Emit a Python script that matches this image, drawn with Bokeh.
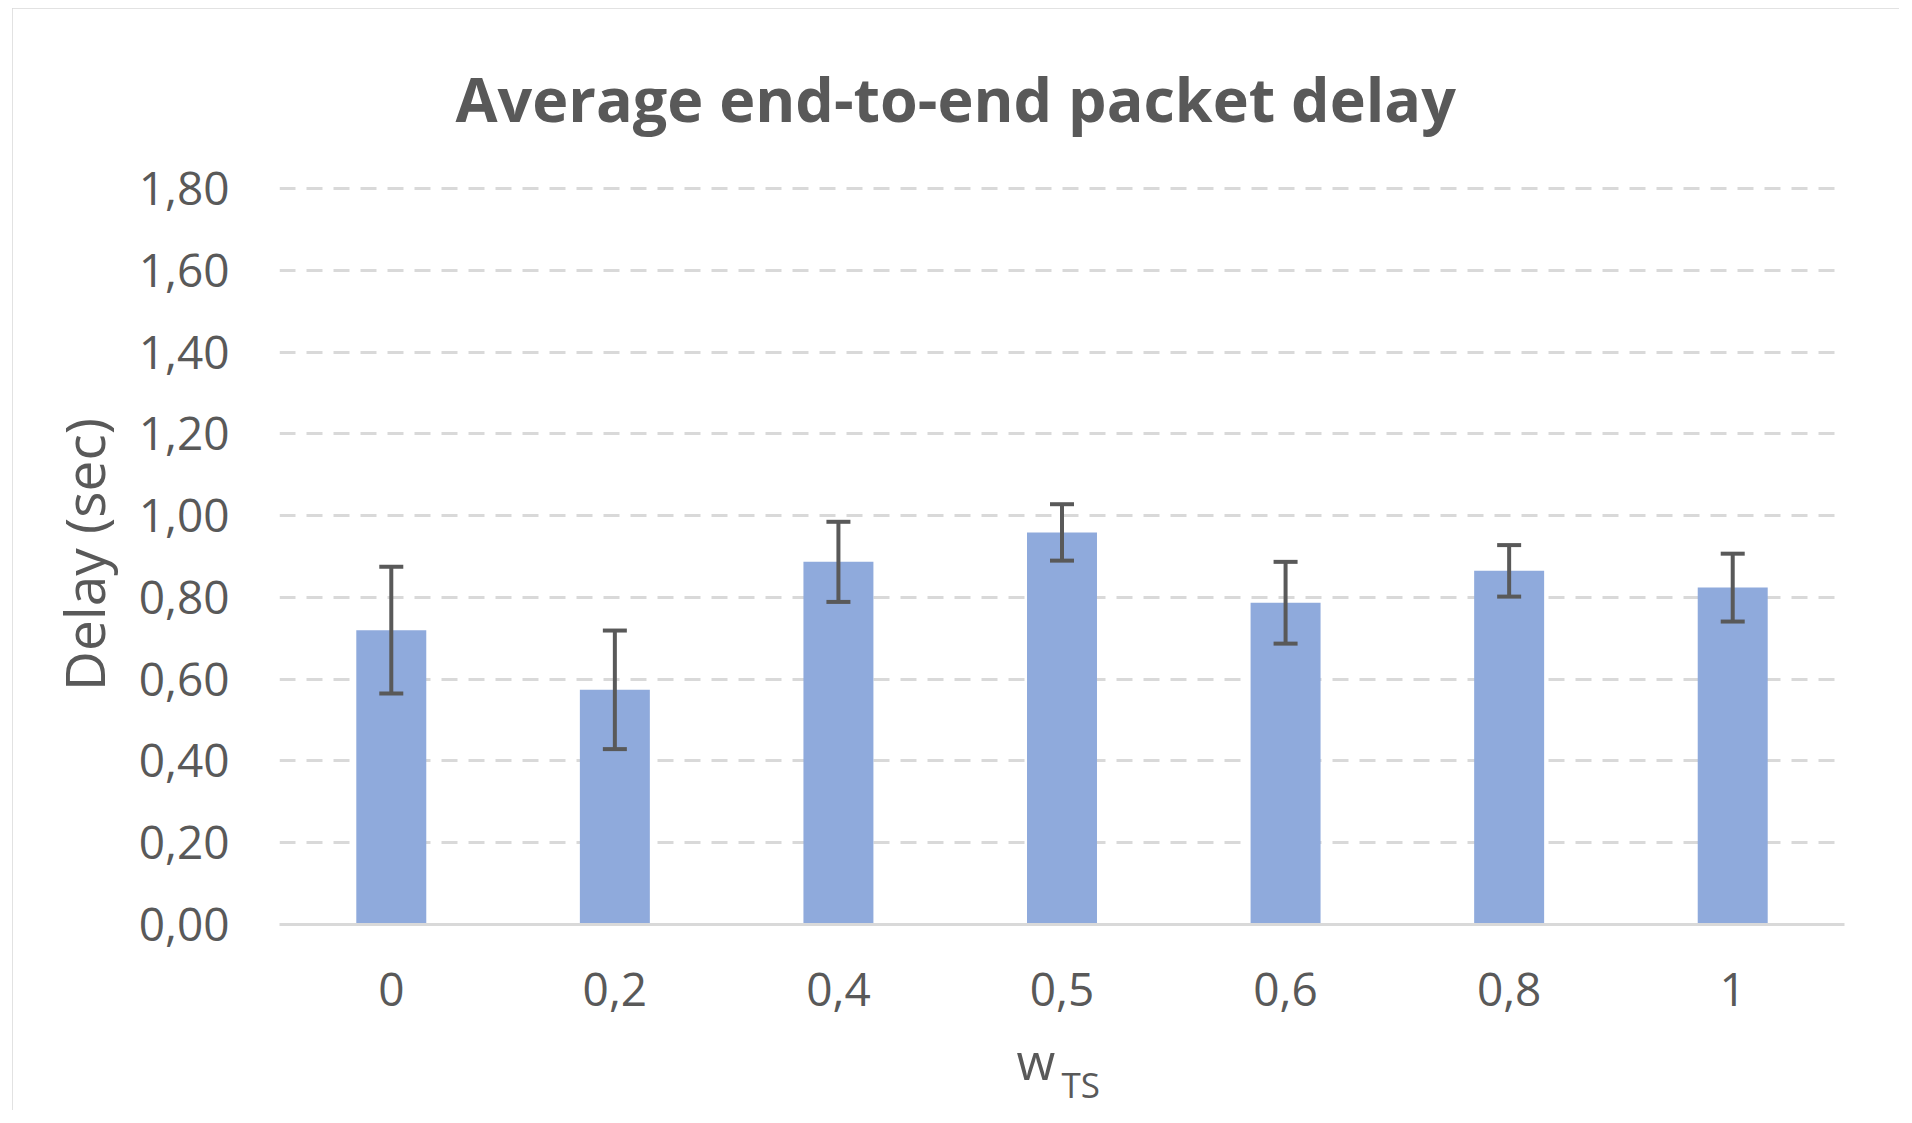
from bokeh.plotting import figure
from bokeh.models import ColumnDataSource, Whisker, TeeHead, Title, FactorRange, Range1d, FixedTicker, CustomJSTickFormatter
from bokeh.embed import file_html
from bokeh.resources import INLINE

# ---- data ----
categories = ["0", "0,2", "0,4", "0,5", "0,6", "0,8", "1"]
delay = [0.72, 0.574, 0.887, 0.959, 0.787, 0.865, 0.824]
delay_err = [0.155, 0.145, 0.098, 0.069, 0.100, 0.063, 0.083]
y_ticks = [0.0, 0.2, 0.4, 0.6, 0.8, 1.0, 1.2, 1.4, 1.6, 1.8]

title_text = "Average end-to-end packet delay"
y_label = "Delay (sec)"
x_label_main = "w"
x_label_sub = "TS"

GREY = "#595959"
GRID = "#d9d9d9"
BAR = "#8faadc"
FONT = "Open Sans"

src = ColumnDataSource(dict(
    cat=categories,
    delay=delay,
    upper=[d + e for d, e in zip(delay, delay_err)],
    lower=[d - e for d, e in zip(delay, delay_err)],
))

p = figure(
    x_range=FactorRange(factors=categories, range_padding=0),
    y_range=Range1d(0, 1.81),
    width=1887, height=1102,
    min_border_left=267, min_border_right=55,
    min_border_top=176, min_border_bottom=186,
    output_backend="svg", toolbar_location=None,
    background_fill_color="white", border_fill_color="white",
)
p.styles = {"outline": "3px solid #d9d9d9", "outline-offset": "-3px",
            "margin-left": "12px", "margin-top": "8px"}
p.outline_line_color = None

# title
p.title.text = title_text
p.title.align = "left"
p.title.offset = 176
p.title.standoff = 90
p.title.text_font = FONT
p.title.text_font_size = "61px"
p.title.text_font_style = "bold"
p.title.text_color = GREY

p.vbar(x="cat", top="delay", width=0.313, source=src, fill_color=BAR, line_color=None)

wh = Whisker(base="cat", upper="upper", lower="lower", source=src,
             line_color=GREY, line_width=4, level="overlay",
             upper_head=TeeHead(size=24, line_color=GREY, line_width=4),
             lower_head=TeeHead(size=24, line_color=GREY, line_width=4))
p.add_layout(wh)

# grid
p.xgrid.grid_line_color = None
p.ygrid.grid_line_color = GRID
p.ygrid.grid_line_width = 3
p.ygrid.grid_line_dash = "16 11"

# y axis
p.yaxis.ticker = FixedTicker(ticks=y_ticks)
p.yaxis.formatter = CustomJSTickFormatter(code="return tick.toFixed(2).replace('.', ',');")
p.yaxis.axis_line_color = None
p.yaxis.major_tick_line_color = None
p.yaxis.minor_tick_line_color = None
p.yaxis.major_tick_out = 0
p.yaxis.major_tick_in = 0
p.yaxis.major_label_standoff = 50
p.yaxis.major_label_text_font = FONT
p.yaxis.major_label_text_font_size = "46px"
p.yaxis.major_label_text_color = GREY
p.yaxis.axis_label = y_label
p.yaxis.axis_label_text_font = FONT
p.yaxis.axis_label_text_font_size = "55px"
p.yaxis.axis_label_text_font_style = "normal"
p.yaxis.axis_label_text_color = GREY
p.yaxis.axis_label_standoff = 15

# x axis
p.xaxis.axis_line_color = GRID
p.xaxis.axis_line_width = 3
p.xaxis.major_tick_line_color = None
p.xaxis.minor_tick_line_color = None
p.xaxis.major_tick_out = 0
p.xaxis.major_tick_in = 0
p.xaxis.major_label_standoff = 48
p.xaxis.major_label_text_font = FONT
p.xaxis.major_label_text_font_size = "46px"
p.xaxis.major_label_text_color = GREY

# x axis title "w" with subscript "TS", stacked below the axis
t_w = Title(text=x_label_main, align="left", offset=737, standoff=32,
            vertical_align="bottom",
            text_font=FONT, text_font_size="50px", text_font_style="normal",
            text_color=GREY)
t_ts = Title(text=x_label_sub, align="left", offset=782, standoff=-99,
             vertical_align="top",
             text_font=FONT, text_font_size="35px", text_font_style="normal",
             text_color=GREY)
p.add_layout(t_w, "below")
p.add_layout(t_ts, "below")

open("out.html", "w").write(file_html(p, INLINE))
